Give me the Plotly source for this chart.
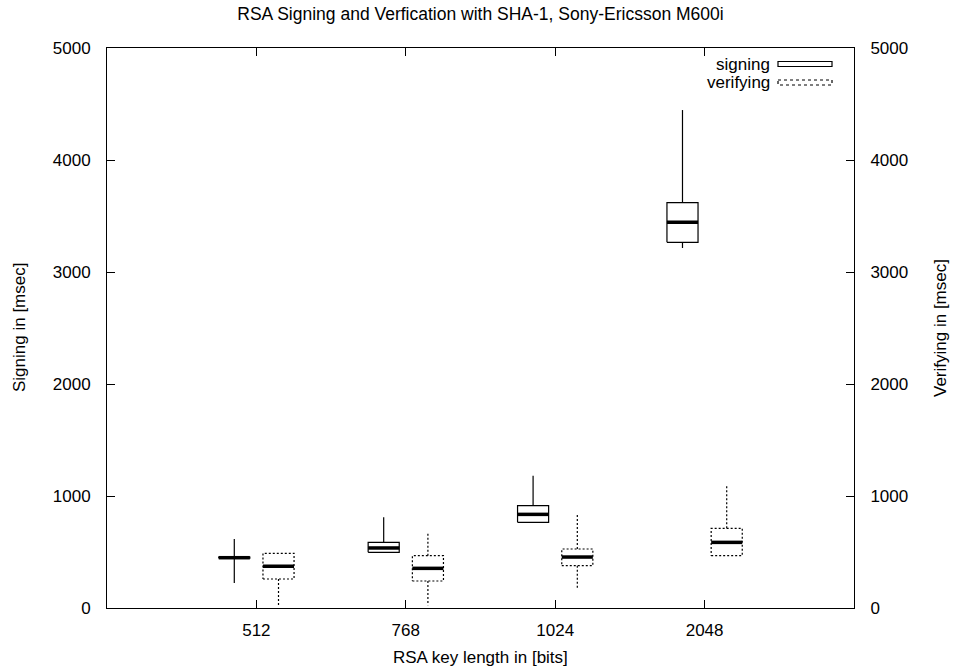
import plotly.graph_objects as go

# ---- data ----
key_lengths = ["512", "768", "1024", "2048"]
key_pos = [1, 2, 3, 4]

sign_min = [223, 497, 765, 3214]
sign_q1 = [444, 497, 765, 3265]
sign_med = [449, 536, 836, 3444]
sign_q3 = [454, 586, 914, 3619]
sign_max = [615, 810, 1181, 4446]

verify_min = [25, 25, 176, 467]
verify_q1 = [259, 241, 378, 467]
verify_med = [372, 354, 455, 586]
verify_q3 = [488, 467, 527, 711]
verify_max = [488, 673, 839, 1092]

y_ticks = [0, 1000, 2000, 3000, 4000, 5000]

OFFSET = 0.148
HALF = 0.104
FONT = "Liberation Sans, Arial, sans-serif"


def box_paths(pos, mn, q1, md, q3, mx, off):
    bx, by, mx_, my_ = [], [], [], []
    for p, a, b, m, c, d in zip(pos, mn, q1, md, q3, mx):
        x = p + off
        # box outline
        bx += [x - HALF, x + HALF, x + HALF, x - HALF, x - HALF, None]
        by += [b, b, c, c, b, None]
        # whiskers
        if d > c:
            bx += [x, x, None]
            by += [c, d, None]
        if a < b:
            bx += [x, x, None]
            by += [b, a, None]
        # median
        mx_ += [x - HALF, x + HALF, None]
        my_ += [m, m, None]
    return bx, by, mx_, my_


fig = go.Figure()

for name, arrs, off, dash in [
    ("signing", (sign_min, sign_q1, sign_med, sign_q3, sign_max), -OFFSET, "solid"),
    ("verifying", (verify_min, verify_q1, verify_med, verify_q3, verify_max), OFFSET, "2px,2px"),
]:
    bx, by, mx_, my_ = box_paths(key_pos, *arrs, off)
    fig.add_trace(go.Scatter(x=bx, y=by, mode="lines", name=name, showlegend=False,
                             line=dict(color="black", width=1.2, dash=dash), hoverinfo="skip"))
    fig.add_trace(go.Scatter(x=mx_, y=my_, mode="lines", showlegend=False,
                             line=dict(color="black", width=3.5), hoverinfo="skip"))

# invisible trace to activate right axis
fig.add_trace(go.Scatter(x=[None], y=[None], yaxis="y2", showlegend=False))

axis_common = dict(showline=True, linecolor="black", linewidth=1,
                   ticks="inside", ticklen=8, tickcolor="black", showgrid=False,
                   zeroline=False, tickfont=dict(family=FONT, size=17, color="black"))

fig.update_layout(
    width=953, height=668,
    margin=dict(l=107, r=99, t=48, b=60),
    paper_bgcolor="white", plot_bgcolor="white",
    font=dict(family=FONT, size=17, color="black"),
    title=dict(text="RSA Signing and Verfication with SHA-1, Sony-Ericsson M600i",
               x=0.5, xref="paper", y=1 - 14 / 668, yanchor="middle",
               font=dict(family=FONT, size=17.5, color="black")),
    xaxis=dict(range=[0, 5], tickvals=key_pos, ticktext=key_lengths, mirror="ticks",
               ticklabelstandoff=7, **axis_common),
    yaxis=dict(range=[0, 5000], tickvals=y_ticks, ticklabelstandoff=12, mirror=True,
               **axis_common),
    yaxis2=dict(range=[0, 5000], overlaying="y", side="right",
                tickvals=y_ticks, ticklabelstandoff=12, **axis_common),
    showlegend=False,
)

# axis titles
fig.add_annotation(text="RSA key length in [bits]", xref="paper", yref="paper",
                   x=0.5, y=0, yshift=-49, showarrow=False, yanchor="middle",
                   xanchor="center", font=dict(family=FONT, size=17))
fig.add_annotation(text="Signing in [msec]", xref="paper", yref="paper",
                   x=0, xshift=-88, y=0.5, textangle=-90, showarrow=False,
                   xanchor="center", yanchor="middle", font=dict(family=FONT, size=17))
fig.add_annotation(text="Verifying in [msec]", xref="paper", yref="paper",
                   x=1, xshift=86, y=0.5, textangle=-90, showarrow=False,
                   xanchor="center", yanchor="middle", font=dict(family=FONT, size=17))

# legend (gnuplot style: text right-aligned, sample box to the right)
W, H = 747.0, 560.0
def px(xp):
    return (xp - 107) / W
def py(yp):
    return (608 - yp) / H

for label, yc, dash in [("signing", 64, "solid"), ("verifying", 82.5, "dot")]:
    fig.add_annotation(text=label, xref="paper", yref="paper", x=px(772), y=py(yc),
                       xanchor="right", yanchor="middle", showarrow=False,
                       font=dict(family=FONT, size=17))
    fig.add_shape(type="rect", xref="paper", yref="paper",
                  x0=px(778), x1=px(832), y0=py(yc - 2.5), y1=py(yc + 2.5),
                  line=dict(color="black", width=1.2, dash=dash))

fig.write_html("out.html")
